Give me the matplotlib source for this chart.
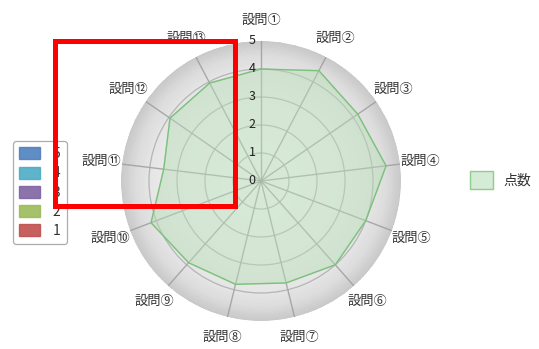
import numpy as np
import matplotlib
matplotlib.use("Agg")
import matplotlib.pyplot as plt
from matplotlib.patches import Patch, Rectangle
from matplotlib.transforms import offset_copy
from matplotlib.colors import LinearSegmentedColormap

plt.rcParams['font.family'] = ['Noto Sans CJK JP', 'DejaVu Sans']

# --- data ---------------------------------------------------------------
categories = ["設問①", "設問②", "設問③", "設問④", "設問⑤", "設問⑥", "設問⑦",
              "設問⑧", "設問⑨", "設問⑩", "設問⑪", "設問⑫", "設問⑬"]
scores = [4.0, 4.45, 4.2, 4.5, 4.0, 4.0, 3.75, 3.8, 3.9, 4.2, 3.5, 3.95, 3.95]
series_name = "点数"
scale_ticks = [0, 1, 2, 3, 4, 5]
level_labels = ["5", "4", "3", "2", "1"]
level_colors = ["#4f81bd", "#4bacc6", "#8064a2", "#9bbb59", "#c0504d"]

# --- figure ---------------------------------------------------------------
W, H = 539, 349
fig = plt.figure(figsize=(W / 100, H / 100), dpi=100)
fig.patch.set_facecolor("white")

cx, cy, R = 261, 181, 140
ax = fig.add_axes([(cx - R) / W, (H - cy - R) / H, 2 * R / W, 2 * R / H],
                  projection="polar")
ax.set_theta_zero_location("N")
ax.set_theta_direction(-1)
ax.set_ylim(0, scale_ticks[-1])
ax.set_facecolor("none")
ax.spines["polar"].set_visible(False)

# radial gray background
cmap = LinearSegmentedColormap.from_list(
    "bg", [(0.0, "#f4f4f4"), (0.55, "#efefef"), (0.8, "#e5e5e5"),
           (0.9, "#dcdcdc"), (1.0, "#c9c9c9")])
th = np.linspace(0, 2 * np.pi, 200)
rr = np.linspace(0, scale_ticks[-1], 120)
TH, RR = np.meshgrid(th, rr)
ax.pcolormesh(TH, RR, RR / scale_ticks[-1], cmap=cmap, shading="auto",
              zorder=0, rasterized=True)

n = len(categories)
angles = np.arange(n) * 2 * np.pi / n

# grid: spokes and rings
ax.set_thetagrids(np.degrees(angles), labels=[""] * n)
ax.set_rgrids(scale_ticks[1:-1], labels=[""] * (len(scale_ticks) - 2))
ax.grid(True, color="#a9a9a9", linewidth=0.9, alpha=0.8)
ax.xaxis.grid(True, color="#9a9a9a", linewidth=1.0)
ax.tick_params(length=0)

# data polygon
a_closed = np.append(angles, angles[0])
s_closed = np.append(scores, scores[0])
ax.fill(a_closed, s_closed, color="#b5dcb5", alpha=0.45, zorder=2)
ax.plot(a_closed, s_closed, color="#7cc07c", linewidth=1.0, zorder=3)

# scale numbers beside the first spoke
tr = offset_copy(ax.transData, fig=fig, x=-9, y=0, units="dots")
for v in scale_ticks:
    ax.text(0, v, str(v), transform=tr, ha="center", va="center",
            fontsize=9, color="#222222", zorder=5, clip_on=False)

# category labels
for a, lab in zip(angles, categories):
    ax.text(a, 5.75, lab, ha="center", va="center", fontsize=9.5,
            color="#333333", clip_on=False)

# left legend (levels)
handles = [Patch(facecolor=c, edgecolor=c, alpha=0.9) for c in level_colors]
leg1 = fig.legend(handles, level_labels, loc="upper left",
                  bbox_to_anchor=(13 / W, 1 - 141 / H), frameon=True,
                  fontsize=10, handlelength=1.5, handleheight=0.95,
                  handletextpad=0.9, labelspacing=0.37, borderpad=0.45,
                  borderaxespad=0, fancybox=True, edgecolor="#999999")
leg1.get_frame().set_linewidth(0.9)
for t in leg1.get_texts():
    t.set_color("#333333")

# right legend (series)
leg2 = fig.legend([Patch(facecolor="#d5ebd5", edgecolor="#8fcc8f")],
                  [series_name], loc="center left",
                  bbox_to_anchor=(470 / W, 1 - 180 / H), frameon=False,
                  fontsize=10, handlelength=1.65, handleheight=1.65,
                  handletextpad=0.75, borderpad=0, borderaxespad=0)
for t in leg2.get_texts():
    t.set_color("#333333")

# red outline box on top
fig.patches.append(Rectangle((55 / W, 1 - 206 / H), (235 - 55) / W,
                             (206 - 40.5) / H, transform=fig.transFigure,
                             fill=False, edgecolor="#ff0000", linewidth=3.6,
                             zorder=10))

fig.savefig("out.png", dpi=100)
